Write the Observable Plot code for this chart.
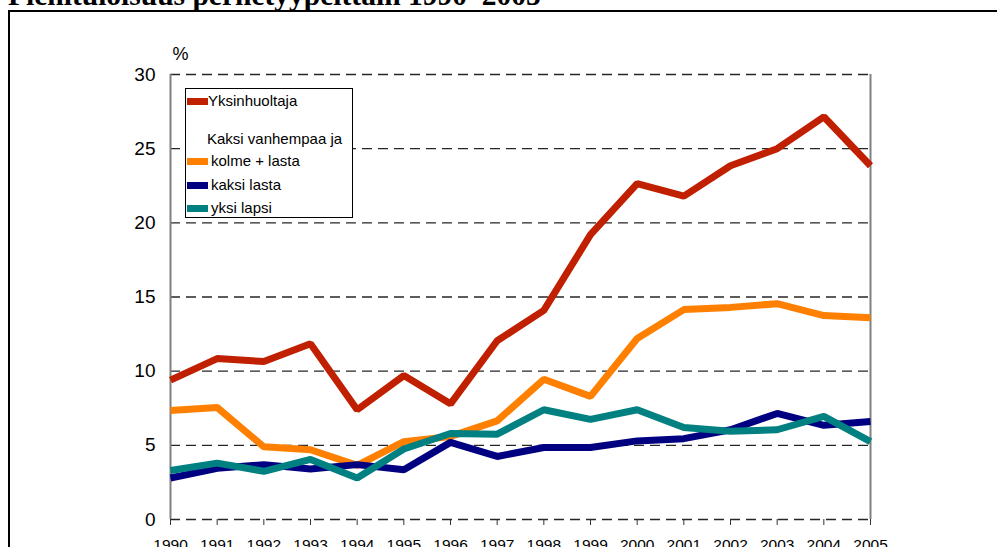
<!DOCTYPE html>
<html>
<head>
<meta charset="utf-8">
<script src="https://cdn.jsdelivr.net/npm/d3@7"></script>
<script src="https://cdn.jsdelivr.net/npm/@observablehq/plot@0.6"></script>
<style>
  html, body { margin: 0; padding: 0; background: #fff; overflow: hidden; width: 997px; height: 547px; }
  #wrap { position: relative; width: 997px; height: 547px; overflow: hidden; }
  #title { position: absolute; left: 8px; top: -19px; font-family: "Liberation Serif", "DejaVu Serif", serif; font-weight: bold; font-size: 29.5px; line-height: 1; white-space: nowrap; }
  #frame { position: absolute; left: 8px; top: 10px; width: 1100px; height: 700px; border: 2px solid #000; box-sizing: border-box; }
  #chart { position: absolute; left: 0; top: 0; }
  #legend { position: absolute; left: 185px; top: 88px; width: 168px; height: 130px; border: 1px solid #000; box-sizing: border-box; background: #fff; font-family: "Liberation Sans", Arial, sans-serif; font-size: 15px; color: #000; }
  .sw { position: absolute; left: 1px; width: 21px; height: 7px; }
  .lb { position: absolute; white-space: nowrap; line-height: 1; }
</style>
</head>
<body>
<div id="wrap">
  <div id="title">Pienituloisuus perhetyypeittäin 1990–2005</div>
  <div id="frame"></div>
  <div id="chart"></div>
  <div id="legend"></div>
</div>
<script>
const years = [1990,1991,1992,1993,1994,1995,1996,1997,1998,1999,2000,2001,2002,2003,2004,2005];
const seriesNames = ["Yksinhuoltaja", "kolme + lasta", "kaksi lasta", "yksi lapsi"];
const seriesColors = ["#c02000", "#ff8000", "#000080", "#008080"];
const yksinhuoltaja = [9.4,10.85,10.65,11.85,7.4,9.7,7.8,12.05,14.1,19.2,22.65,21.8,23.85,25.0,27.15,23.85];
const kolmeLasta   = [7.35,7.55,4.9,4.7,3.65,5.25,5.6,6.65,9.45,8.3,12.2,14.15,14.3,14.55,13.75,13.6];
const kaksiLasta   = [2.8,3.45,3.7,3.4,3.7,3.35,5.2,4.25,4.85,4.85,5.3,5.45,6.05,7.15,6.35,6.6];
const yksiLapsi    = [3.3,3.8,3.25,4.05,2.8,4.75,5.8,5.75,7.4,6.75,7.4,6.2,5.95,6.05,6.95,5.25];
const yTicks = [0,5,10,15,20,25,30];
const legendHeader = "Kaksi vanhempaa ja";

const allSeries = [yksinhuoltaja, kolmeLasta, kaksiLasta, yksiLapsi];
const data = [];
allSeries.forEach((vals, si) => vals.forEach((v, i) => data.push({year: years[i], value: v, series: seriesNames[si]})));

const font = "'Liberation Sans', Arial, sans-serif";
const chart = Plot.plot({
  width: 997,
  height: 580,
  marginLeft: 170,
  marginRight: 127,
  marginTop: 74,
  marginBottom: 61,
  style: {fontFamily: font, background: "transparent", overflow: "visible"},
  x: {domain: [1990, 2005]},
  y: {domain: [0, 30]},
  color: {domain: seriesNames, range: seriesColors},
  marks: [
    Plot.ruleY(yTicks, {stroke: "#000", strokeWidth: 1.3, strokeDasharray: "10,6", strokeOpacity: 0.85}),
    Plot.ruleX([1990, 2005], {stroke: "#808080", strokeWidth: 2}),
    Plot.axisY({ticks: yTicks, tickSize: 0, tickPadding: 15, fontSize: 19, label: null, tickFormat: d => String(d)}),
    Plot.text(["%"], {frameAnchor: "top-left", dx: 2, dy: -27, fontSize: 18, textAnchor: "start"}),
    Plot.axisX({ticks: years, tickSize: 6, tickPadding: 13, fontSize: 15.5, label: null, tickFormat: d => String(d), stroke: "#333"}),
    Plot.line(data, {x: "year", y: "value", z: "series", stroke: "series", strokeWidth: 7, strokeLinejoin: "miter", strokeLinecap: "butt"})
  ]
});
document.getElementById("chart").appendChild(chart);

// legend
const legend = document.getElementById("legend");
const rows = [
  {type: "item", idx: 0, y: 12},
  {type: "header", y: 50},
  {type: "item", idx: 1, y: 72},
  {type: "item", idx: 2, y: 96},
  {type: "item", idx: 3, y: 119}
];
rows.forEach(r => {
  if (r.type === "header") {
    const t = document.createElement("div");
    t.className = "lb";
    t.style.left = "21px";
    t.style.top = (r.y - 8) + "px";
    t.textContent = legendHeader;
    legend.appendChild(t);
  } else {
    const sw = document.createElement("div");
    sw.className = "sw";
    sw.style.top = (r.y - 3.5) + "px";
    sw.style.background = seriesColors[r.idx];
    legend.appendChild(sw);
    const t = document.createElement("div");
    t.className = "lb";
    t.style.left = (r.idx === 0 ? 22 : 25) + "px";
    t.style.top = (r.y - 8) + "px";
    t.textContent = seriesNames[r.idx];
    legend.appendChild(t);
  }
});
</script>
</body>
</html>
